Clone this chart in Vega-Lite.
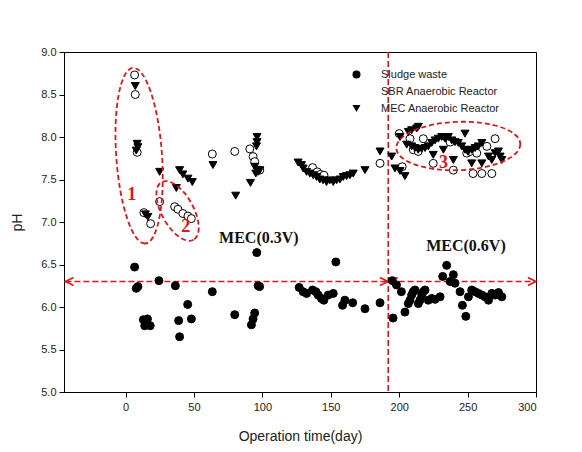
{
  "$schema": "https://vega.github.io/schema/vega-lite/v6.json",
  "width": 472,
  "height": 340,
  "autosize": "none",
  "padding": {"left": 64, "top": 52, "right": 46, "bottom": 60},
  "config": {
    "view": {"stroke": "black", "strokeWidth": 1},
    "axis": {
      "grid": false, "domainColor": "black", "tickColor": "black", "tickSize": 5,
      "labelColor": "#222", "labelFont": "Liberation Sans", "labelFontSize": 11,
      "titleFont": "Liberation Sans", "titleFontWeight": "normal", "titleColor": "#222", "titleFontSize": 14
    }
  },
  "datasets": {
    "ph": [
      {"series": "Sludge waste", "day": 6.6, "pH": 6.47}, {"series": "Sludge waste", "day": 7.8, "pH": 6.22}, {"series": "Sludge waste", "day": 9, "pH": 6.24},
      {"series": "Sludge waste", "day": 24.4, "pH": 6.31}, {"series": "Sludge waste", "day": 36.4, "pH": 6.25}, {"series": "Sludge waste", "day": 63.4, "pH": 6.18},
      {"series": "Sludge waste", "day": 95.9, "pH": 6.64}, {"series": "Sludge waste", "day": 96.9, "pH": 6.25}, {"series": "Sludge waste", "day": 98, "pH": 6.24},
      {"series": "Sludge waste", "day": 45.4, "pH": 6.03}, {"series": "Sludge waste", "day": 48.1, "pH": 5.86}, {"series": "Sludge waste", "day": 38.8, "pH": 5.84},
      {"series": "Sludge waste", "day": 39.5, "pH": 5.65}, {"series": "Sludge waste", "day": 13, "pH": 5.85}, {"series": "Sludge waste", "day": 16, "pH": 5.86},
      {"series": "Sludge waste", "day": 14, "pH": 5.78}, {"series": "Sludge waste", "day": 18, "pH": 5.78}, {"series": "Sludge waste", "day": 15, "pH": 5.81},
      {"series": "Sludge waste", "day": 79.8, "pH": 5.91}, {"series": "Sludge waste", "day": 94.4, "pH": 5.93}, {"series": "Sludge waste", "day": 93.2, "pH": 5.86},
      {"series": "Sludge waste", "day": 92, "pH": 5.79}, {"series": "Sludge waste", "day": 153.7, "pH": 6.53}, {"series": "Sludge waste", "day": 126.9, "pH": 6.23},
      {"series": "Sludge waste", "day": 129.8, "pH": 6.18}, {"series": "Sludge waste", "day": 132.3, "pH": 6.16}, {"series": "Sludge waste", "day": 136.7, "pH": 6.2},
      {"series": "Sludge waste", "day": 139.1, "pH": 6.18}, {"series": "Sludge waste", "day": 140.8, "pH": 6.14}, {"series": "Sludge waste", "day": 143.2, "pH": 6.1},
      {"series": "Sludge waste", "day": 144.9, "pH": 6.08}, {"series": "Sludge waste", "day": 148.1, "pH": 6.14}, {"series": "Sludge waste", "day": 151.8, "pH": 6.16},
      {"series": "Sludge waste", "day": 160.3, "pH": 6.08}, {"series": "Sludge waste", "day": 158.6, "pH": 6.02}, {"series": "Sludge waste", "day": 166, "pH": 6.05},
      {"series": "Sludge waste", "day": 175, "pH": 5.98}, {"series": "Sludge waste", "day": 186, "pH": 6.05}, {"series": "Sludge waste", "day": 195.5, "pH": 5.87},
      {"series": "Sludge waste", "day": 195, "pH": 6.31}, {"series": "Sludge waste", "day": 198, "pH": 6.26}, {"series": "Sludge waste", "day": 201.6, "pH": 6.18},
      {"series": "Sludge waste", "day": 204.2, "pH": 5.94}, {"series": "Sludge waste", "day": 206.7, "pH": 6.04}, {"series": "Sludge waste", "day": 207.9, "pH": 6.08},
      {"series": "Sludge waste", "day": 209.1, "pH": 6.14}, {"series": "Sludge waste", "day": 210.3, "pH": 6.18}, {"series": "Sludge waste", "day": 211.5, "pH": 6.2},
      {"series": "Sludge waste", "day": 214, "pH": 6.04}, {"series": "Sludge waste", "day": 215.2, "pH": 6.08}, {"series": "Sludge waste", "day": 216.5, "pH": 6.14},
      {"series": "Sludge waste", "day": 217.6, "pH": 6.18}, {"series": "Sludge waste", "day": 218.9, "pH": 6.2}, {"series": "Sludge waste", "day": 221.3, "pH": 6.08},
      {"series": "Sludge waste", "day": 223.8, "pH": 6.1}, {"series": "Sludge waste", "day": 226.2, "pH": 6.09}, {"series": "Sludge waste", "day": 229.9, "pH": 6.12},
      {"series": "Sludge waste", "day": 234.7, "pH": 6.49}, {"series": "Sludge waste", "day": 231.8, "pH": 6.36}, {"series": "Sludge waste", "day": 239.6, "pH": 6.38},
      {"series": "Sludge waste", "day": 237.2, "pH": 6.3}, {"series": "Sludge waste", "day": 240.8, "pH": 6.28}, {"series": "Sludge waste", "day": 244.5, "pH": 6.18},
      {"series": "Sludge waste", "day": 246.2, "pH": 6.02}, {"series": "Sludge waste", "day": 248.7, "pH": 5.89}, {"series": "Sludge waste", "day": 250.6, "pH": 6.12},
      {"series": "Sludge waste", "day": 253, "pH": 6.2}, {"series": "Sludge waste", "day": 255.5, "pH": 6.18}, {"series": "Sludge waste", "day": 257.9, "pH": 6.16},
      {"series": "Sludge waste", "day": 260.4, "pH": 6.14}, {"series": "Sludge waste", "day": 262.8, "pH": 6.12}, {"series": "Sludge waste", "day": 265.3, "pH": 6.08},
      {"series": "Sludge waste", "day": 267.7, "pH": 6.16}, {"series": "Sludge waste", "day": 270.1, "pH": 6.14}, {"series": "Sludge waste", "day": 272.6, "pH": 6.17},
      {"series": "Sludge waste", "day": 275, "pH": 6.12},

      {"series": "SBR Anaerobic Reactor", "day": 6.6, "pH": 8.73}, {"series": "SBR Anaerobic Reactor", "day": 7.1, "pH": 8.5}, {"series": "SBR Anaerobic Reactor", "day": 8.5, "pH": 7.82},
      {"series": "SBR Anaerobic Reactor", "day": 13.4, "pH": 7.11}, {"series": "SBR Anaerobic Reactor", "day": 18.3, "pH": 6.98}, {"series": "SBR Anaerobic Reactor", "day": 24.9, "pH": 7.24},
      {"series": "SBR Anaerobic Reactor", "day": 35.9, "pH": 7.18}, {"series": "SBR Anaerobic Reactor", "day": 38.3, "pH": 7.15}, {"series": "SBR Anaerobic Reactor", "day": 41.9, "pH": 7.1},
      {"series": "SBR Anaerobic Reactor", "day": 45.6, "pH": 7.07}, {"series": "SBR Anaerobic Reactor", "day": 48.1, "pH": 7.04}, {"series": "SBR Anaerobic Reactor", "day": 63.4, "pH": 7.8},
      {"series": "SBR Anaerobic Reactor", "day": 79.8, "pH": 7.83}, {"series": "SBR Anaerobic Reactor", "day": 90.8, "pH": 7.86}, {"series": "SBR Anaerobic Reactor", "day": 93.2, "pH": 7.77},
      {"series": "SBR Anaerobic Reactor", "day": 94.4, "pH": 7.71}, {"series": "SBR Anaerobic Reactor", "day": 98.1, "pH": 7.61}, {"series": "SBR Anaerobic Reactor", "day": 136.7, "pH": 7.64},
      {"series": "SBR Anaerobic Reactor", "day": 140.1, "pH": 7.59}, {"series": "SBR Anaerobic Reactor", "day": 142.5, "pH": 7.56}, {"series": "SBR Anaerobic Reactor", "day": 145, "pH": 7.55},
      {"series": "SBR Anaerobic Reactor", "day": 186, "pH": 7.69}, {"series": "SBR Anaerobic Reactor", "day": 200, "pH": 8.04}, {"series": "SBR Anaerobic Reactor", "day": 202.2, "pH": 7.65},
      {"series": "SBR Anaerobic Reactor", "day": 207.9, "pH": 7.98}, {"series": "SBR Anaerobic Reactor", "day": 210.3, "pH": 7.85}, {"series": "SBR Anaerobic Reactor", "day": 213.9, "pH": 7.83},
      {"series": "SBR Anaerobic Reactor", "day": 217.6, "pH": 7.98}, {"series": "SBR Anaerobic Reactor", "day": 224.9, "pH": 7.69}, {"series": "SBR Anaerobic Reactor", "day": 237.2, "pH": 7.94},
      {"series": "SBR Anaerobic Reactor", "day": 239.6, "pH": 7.61}, {"series": "SBR Anaerobic Reactor", "day": 249.4, "pH": 7.81}, {"series": "SBR Anaerobic Reactor", "day": 251.8, "pH": 7.83},
      {"series": "SBR Anaerobic Reactor", "day": 254, "pH": 7.57}, {"series": "SBR Anaerobic Reactor", "day": 256.7, "pH": 7.81}, {"series": "SBR Anaerobic Reactor", "day": 260.4, "pH": 7.57},
      {"series": "SBR Anaerobic Reactor", "day": 264.1, "pH": 7.89}, {"series": "SBR Anaerobic Reactor", "day": 267.7, "pH": 7.57}, {"series": "SBR Anaerobic Reactor", "day": 270.1, "pH": 7.98},

      {"series": "MEC Anaerobic Reactor", "day": 7.1, "pH": 8.6}, {"series": "MEC Anaerobic Reactor", "day": 8.5, "pH": 7.92}, {"series": "MEC Anaerobic Reactor", "day": 9, "pH": 7.88},
      {"series": "MEC Anaerobic Reactor", "day": 7.8, "pH": 7.84}, {"series": "MEC Anaerobic Reactor", "day": 14.5, "pH": 7.09}, {"series": "MEC Anaerobic Reactor", "day": 16.3, "pH": 7.06},
      {"series": "MEC Anaerobic Reactor", "day": 24.9, "pH": 7.59}, {"series": "MEC Anaerobic Reactor", "day": 37.1, "pH": 7.4}, {"series": "MEC Anaerobic Reactor", "day": 39.5, "pH": 7.61},
      {"series": "MEC Anaerobic Reactor", "day": 41.9, "pH": 7.56}, {"series": "MEC Anaerobic Reactor", "day": 45.6, "pH": 7.51}, {"series": "MEC Anaerobic Reactor", "day": 48.8, "pH": 7.47},
      {"series": "MEC Anaerobic Reactor", "day": 63.9, "pH": 7.67}, {"series": "MEC Anaerobic Reactor", "day": 80.5, "pH": 7.31}, {"series": "MEC Anaerobic Reactor", "day": 91.3, "pH": 7.46},
      {"series": "MEC Anaerobic Reactor", "day": 94.4, "pH": 7.65}, {"series": "MEC Anaerobic Reactor", "day": 95.2, "pH": 7.57}, {"series": "MEC Anaerobic Reactor", "day": 96.9, "pH": 7.59},
      {"series": "MEC Anaerobic Reactor", "day": 98.1, "pH": 7.61}, {"series": "MEC Anaerobic Reactor", "day": 95.7, "pH": 7.89}, {"series": "MEC Anaerobic Reactor", "day": 96.1, "pH": 7.94},
      {"series": "MEC Anaerobic Reactor", "day": 96.1, "pH": 8.0}, {"series": "MEC Anaerobic Reactor", "day": 126.1, "pH": 7.7}, {"series": "MEC Anaerobic Reactor", "day": 128.6, "pH": 7.67},
      {"series": "MEC Anaerobic Reactor", "day": 129.8, "pH": 7.63}, {"series": "MEC Anaerobic Reactor", "day": 132.3, "pH": 7.59}, {"series": "MEC Anaerobic Reactor", "day": 134.7, "pH": 7.57},
      {"series": "MEC Anaerobic Reactor", "day": 137.1, "pH": 7.55}, {"series": "MEC Anaerobic Reactor", "day": 139.6, "pH": 7.53}, {"series": "MEC Anaerobic Reactor", "day": 142, "pH": 7.5},
      {"series": "MEC Anaerobic Reactor", "day": 144.4, "pH": 7.49}, {"series": "MEC Anaerobic Reactor", "day": 146.9, "pH": 7.47}, {"series": "MEC Anaerobic Reactor", "day": 149.3, "pH": 7.49},
      {"series": "MEC Anaerobic Reactor", "day": 151.8, "pH": 7.47}, {"series": "MEC Anaerobic Reactor", "day": 154.2, "pH": 7.49}, {"series": "MEC Anaerobic Reactor", "day": 156.7, "pH": 7.5},
      {"series": "MEC Anaerobic Reactor", "day": 159.1, "pH": 7.53}, {"series": "MEC Anaerobic Reactor", "day": 161.6, "pH": 7.54}, {"series": "MEC Anaerobic Reactor", "day": 164, "pH": 7.55},
      {"series": "MEC Anaerobic Reactor", "day": 166.4, "pH": 7.57}, {"series": "MEC Anaerobic Reactor", "day": 175, "pH": 7.61}, {"series": "MEC Anaerobic Reactor", "day": 186, "pH": 7.83},
      {"series": "MEC Anaerobic Reactor", "day": 194.5, "pH": 7.77}, {"series": "MEC Anaerobic Reactor", "day": 196.9, "pH": 7.63}, {"series": "MEC Anaerobic Reactor", "day": 200.6, "pH": 7.6},
      {"series": "MEC Anaerobic Reactor", "day": 204.2, "pH": 7.54}, {"series": "MEC Anaerobic Reactor", "day": 200.6, "pH": 8.0}, {"series": "MEC Anaerobic Reactor", "day": 206.7, "pH": 8.06},
      {"series": "MEC Anaerobic Reactor", "day": 209.1, "pH": 8.08}, {"series": "MEC Anaerobic Reactor", "day": 212.8, "pH": 8.1}, {"series": "MEC Anaerobic Reactor", "day": 214, "pH": 8.12},
      {"series": "MEC Anaerobic Reactor", "day": 205.5, "pH": 7.91}, {"series": "MEC Anaerobic Reactor", "day": 209.1, "pH": 7.89}, {"series": "MEC Anaerobic Reactor", "day": 211.5, "pH": 7.87},
      {"series": "MEC Anaerobic Reactor", "day": 213.9, "pH": 7.85}, {"series": "MEC Anaerobic Reactor", "day": 216.4, "pH": 7.86}, {"series": "MEC Anaerobic Reactor", "day": 218.9, "pH": 7.87},
      {"series": "MEC Anaerobic Reactor", "day": 221.3, "pH": 7.89}, {"series": "MEC Anaerobic Reactor", "day": 223.8, "pH": 7.93}, {"series": "MEC Anaerobic Reactor", "day": 226.2, "pH": 7.96},
      {"series": "MEC Anaerobic Reactor", "day": 228.6, "pH": 7.98}, {"series": "MEC Anaerobic Reactor", "day": 231.1, "pH": 8.0}, {"series": "MEC Anaerobic Reactor", "day": 233.5, "pH": 7.98},
      {"series": "MEC Anaerobic Reactor", "day": 235.9, "pH": 8.0}, {"series": "MEC Anaerobic Reactor", "day": 238.4, "pH": 7.96}, {"series": "MEC Anaerobic Reactor", "day": 240.8, "pH": 7.94},
      {"series": "MEC Anaerobic Reactor", "day": 243.2, "pH": 7.93}, {"series": "MEC Anaerobic Reactor", "day": 245.7, "pH": 7.89}, {"series": "MEC Anaerobic Reactor", "day": 248.1, "pH": 7.85},
      {"series": "MEC Anaerobic Reactor", "day": 250.6, "pH": 7.83}, {"series": "MEC Anaerobic Reactor", "day": 253, "pH": 7.85}, {"series": "MEC Anaerobic Reactor", "day": 255.5, "pH": 7.87},
      {"series": "MEC Anaerobic Reactor", "day": 257.9, "pH": 7.89}, {"series": "MEC Anaerobic Reactor", "day": 260.4, "pH": 7.93}, {"series": "MEC Anaerobic Reactor", "day": 248.1, "pH": 8.04},
      {"series": "MEC Anaerobic Reactor", "day": 224.9, "pH": 7.79}, {"series": "MEC Anaerobic Reactor", "day": 239.6, "pH": 7.73}, {"series": "MEC Anaerobic Reactor", "day": 232.3, "pH": 7.85},
      {"series": "MEC Anaerobic Reactor", "day": 253, "pH": 7.69}, {"series": "MEC Anaerobic Reactor", "day": 260.4, "pH": 7.69}, {"series": "MEC Anaerobic Reactor", "day": 265.3, "pH": 7.77},
      {"series": "MEC Anaerobic Reactor", "day": 267.7, "pH": 7.73}, {"series": "MEC Anaerobic Reactor", "day": 270.1, "pH": 7.81}, {"series": "MEC Anaerobic Reactor", "day": 272.6, "pH": 7.83},
      {"series": "MEC Anaerobic Reactor", "day": 273.8, "pH": 7.77}, {"series": "MEC Anaerobic Reactor", "day": 275, "pH": 7.73}
    ]
  },
  "layer": [
    {
      "data": {"values": [{"day": 192}]},
      "mark": {"type": "rule", "color": "#e0141c", "strokeWidth": 1.6, "strokeDash": [6, 3]},
      "encoding": {"x": {"field": "day", "type": "quantitative"}}
    },
    {
      "data": {"values": [{"day": -44, "day2": 191, "pH": 6.3}, {"day": 193, "day2": 299.5, "pH": 6.3}]},
      "mark": {"type": "rule", "color": "#e0141c", "strokeWidth": 1.6, "strokeDash": [6, 3]},
      "encoding": {"x": {"field": "day", "type": "quantitative"}, "x2": {"field": "day2"}, "y": {"field": "pH", "type": "quantitative"}}
    },
    {
      "data": {"values": [{"day": 188.8, "pH": 6.3}, {"day": 297, "pH": 6.3}]},
      "mark": {"type": "point", "shape": "M-1,-1L1,0L-1,1", "filled": false, "color": "#e0141c", "strokeWidth": 1.6, "size": 64, "opacity": 1},
      "encoding": {"x": {"field": "day", "type": "quantitative"}, "y": {"field": "pH", "type": "quantitative"}}
    },
    {
      "data": {"values": [{"day": -41, "pH": 6.3}, {"day": 196, "pH": 6.3}]},
      "mark": {"type": "point", "shape": "M1,-1L-1,0L1,1", "filled": false, "color": "#e0141c", "strokeWidth": 1.6, "size": 64, "opacity": 1},
      "encoding": {"x": {"field": "day", "type": "quantitative"}, "y": {"field": "pH", "type": "quantitative"}}
    },
    {
      "data": {"name": "ph"},
      "mark": {"type": "point", "filled": true, "stroke": "black", "strokeWidth": 1, "size": 64, "opacity": 1},
      "encoding": {
        "x": {"field": "day", "type": "quantitative", "scale": {"domain": [-45, 300], "nice": false, "zero": false},
              "axis": {"values": [0, 50, 100, 150, 200, 250, 300], "format": "d", "title": "Operation time(day)", "titlePadding": 17, "labelPadding": 4}},
        "y": {"field": "pH", "type": "quantitative", "scale": {"domain": [5, 9], "nice": false, "zero": false},
              "axis": {"values": [5, 5.5, 6, 6.5, 7, 7.5, 8, 8.5, 9], "format": ".1f", "title": "pH", "titlePadding": 16, "labelPadding": 3}},
        "fill": {"field": "series", "type": "nominal",
                 "scale": {"domain": ["Sludge waste", "SBR Anaerobic Reactor", "MEC Anaerobic Reactor"], "range": ["black", "white", "black"]},
                 "legend": {"orient": "none", "legendX": 287, "legendY": 17, "title": null, "padding": 0,
                            "labelFont": "Liberation Sans", "labelFontSize": 11, "labelColor": "#222",
                            "symbolStrokeColor": "black", "symbolStrokeWidth": 1, "symbolSize": 64,
                            "labelOffset": 19, "rowPadding": 4}},
        "shape": {"field": "series", "type": "nominal",
                  "scale": {"domain": ["Sludge waste", "SBR Anaerobic Reactor", "MEC Anaerobic Reactor"], "range": ["circle", "circle", "triangle-down"]},
                  "legend": {"orient": "none", "legendX": 287, "legendY": 17, "title": null, "padding": 0,
                            "labelFont": "Liberation Sans", "labelFontSize": 11, "labelColor": "#222",
                            "symbolStrokeColor": "black", "symbolStrokeWidth": 1, "symbolSize": 64,
                            "labelOffset": 19, "rowPadding": 4}}
      }
    },
    {
      "data": {"values": [{"day": 9.9, "pH": 7.78}]},
      "mark": {"type": "point", "filled": false, "color": "#e0141c", "strokeWidth": 1.8, "strokeDash": [5, 3], "opacity": 1, "angle": 86, "size": 30976,
               "shape": "M1,0C1,0.1436,0.5523,0.26,0,0.26C-0.5523,0.26,-1,0.1436,-1,0C-1,-0.1436,-0.5523,-0.26,0,-0.26C0.5523,-0.26,1,-0.1436,1,0Z"},
      "encoding": {"x": {"field": "day", "type": "quantitative"}, "y": {"field": "pH", "type": "quantitative"}}
    },
    {
      "data": {"values": [{"day": 38.0, "pH": 7.13}]},
      "mark": {"type": "point", "filled": false, "color": "#e0141c", "strokeWidth": 1.8, "strokeDash": [5, 3], "opacity": 1, "angle": 61, "size": 4356,
               "shape": "M1,0C1,0.2651,0.5523,0.48,0,0.48C-0.5523,0.48,-1,0.2651,-1,0C-1,-0.2651,-0.5523,-0.48,0,-0.48C0.5523,-0.48,1,-0.2651,1,0Z"},
      "encoding": {"x": {"field": "day", "type": "quantitative"}, "y": {"field": "pH", "type": "quantitative"}}
    },
    {
      "data": {"values": [{"day": 243.2, "pH": 7.894}]},
      "mark": {"type": "point", "filled": false, "color": "#e0141c", "strokeWidth": 1.8, "strokeDash": [5, 3], "opacity": 1, "angle": -2, "size": 15376,
               "shape": "M1,0C1,0.2154,0.5523,0.39,0,0.39C-0.5523,0.39,-1,0.2154,-1,0C-1,-0.2154,-0.5523,-0.39,0,-0.39C0.5523,-0.39,1,-0.2154,1,0Z"},
      "encoding": {"x": {"field": "day", "type": "quantitative"}, "y": {"field": "pH", "type": "quantitative"}}
    },
    {
      "data": {"values": [{"day": 4.6, "pH": 7.32, "label": "1"}, {"day": 43.9, "pH": 6.94, "label": "2"}, {"day": 232.3, "pH": 7.69, "label": "3"}]},
      "mark": {"type": "text", "font": "Liberation Serif", "fontWeight": "bold", "fontSize": 18, "color": "#e0141c", "align": "center", "baseline": "middle"},
      "encoding": {"x": {"field": "day", "type": "quantitative"}, "y": {"field": "pH", "type": "quantitative"}, "text": {"field": "label"}}
    },
    {
      "data": {"values": [{"day": 97.4, "pH": 6.81, "label": "MEC(0.3V)"}, {"day": 248.8, "pH": 6.72, "label": "MEC(0.6V)"}]},
      "mark": {"type": "text", "font": "Liberation Serif", "fontWeight": "bold", "fontSize": 16, "color": "#111", "align": "center", "baseline": "middle"},
      "encoding": {"x": {"field": "day", "type": "quantitative"}, "y": {"field": "pH", "type": "quantitative"}, "text": {"field": "label"}}
    }
  ]
}
